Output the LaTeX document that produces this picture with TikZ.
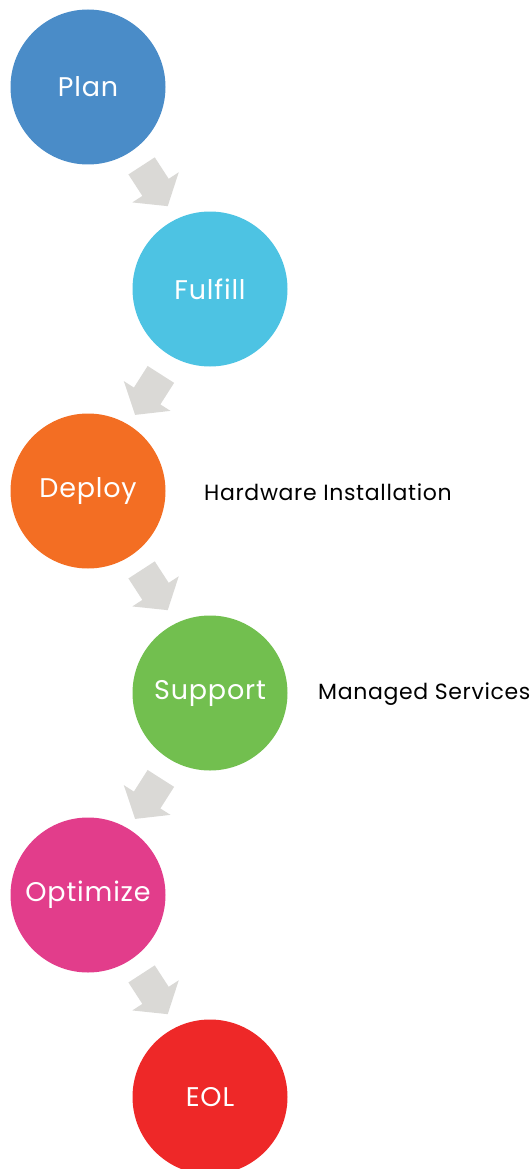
\documentclass[tikz,border=0pt]{standalone}
\usepackage{fontspec}
\setmainfont{Poppins}
\newfontfamily\circfont[LetterSpace=3]{Poppins}
\newfontfamily\notefont[LetterSpace=3]{Poppins}
\usetikzlibrary{shapes.arrows,calc}
\definecolor{cplan}{HTML}{4A8CC8}
\definecolor{cfulfill}{HTML}{4DC3E3}
\definecolor{cdeploy}{HTML}{F36E23}
\definecolor{csupport}{HTML}{72BF4F}
\definecolor{coptimize}{HTML}{E23D8B}
\definecolor{ceol}{HTML}{EE2828}
\definecolor{carrow}{HTML}{DAD9D6}
\tikzset{
  phase/.style={circle, minimum size=155pt, inner sep=0pt, fill=#1, text=white, font=\circfont\fontsize{27}{31}\selectfont},
  blockarrow/.style={single arrow, fill=carrow, draw=none, minimum height=48pt,
    inner xsep=0pt, inner ysep=15.5pt, text width=0pt, text height=0pt, text depth=0pt,
    single arrow head extend=12pt, single arrow head indent=0pt, single arrow tip angle=102},
  note/.style={anchor=west, inner sep=0pt, font=\notefont\fontsize{22}{26}\selectfont, text=black}
}
\begin{document}
\begin{tikzpicture}[x=1pt,y=1pt]
\useasboundingbox (0,0) rectangle (532,-1169);
\node[phase=cplan] (plan) at (88,-87) {Plan};
\node[phase=cfulfill] (fulfill) at (210,-289) {Fulfill};
\node[phase=cdeploy] (deploy) at (88,-491) {Deploy};
\node[phase=csupport] (support) at (210,-693) {Support};
\node[phase=coptimize] (optimize) at (88,-895) {Optimize};
\node[phase=ceol] (eol) at (210,-1097) {EOL};
\node[blockarrow, rotate=-57] (a1) at ($(plan)!0.5!(fulfill)+(2.2,7.3)$) {};
\node[blockarrow, rotate=-122.5] (a2) at ($(fulfill)!0.5!(deploy)+(2.4,0.7)$) {};
\node[blockarrow, rotate=-57] (a3) at ($(deploy)!0.5!(support)+(2.2,7.3)$) {};
\node[blockarrow, rotate=-122.5] (a4) at ($(support)!0.5!(optimize)+(2.4,0.7)$) {};
\node[blockarrow, rotate=-57] (a5) at ($(optimize)!0.5!(eol)+(2.2,7.3)$) {};
\node[note] (hw) at (204,-492) {Hardware Installation};
\node[note] (ms) at (318,-694) {Managed Services};
\end{tikzpicture}
\end{document}
